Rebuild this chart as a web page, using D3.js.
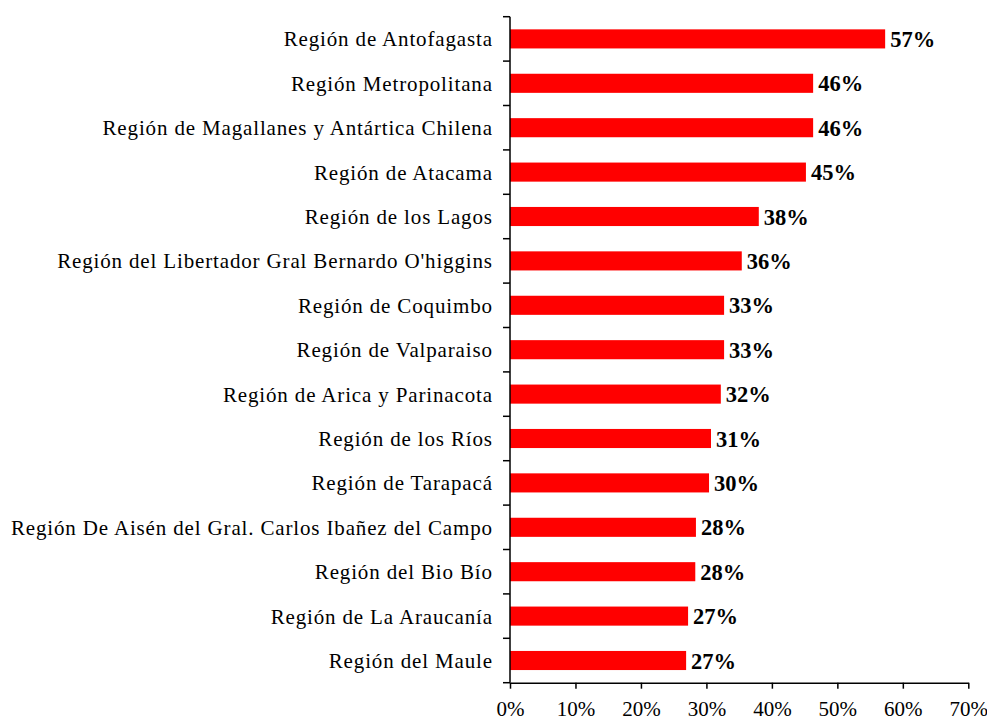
<!DOCTYPE html>
<html><head><meta charset="utf-8">
<script src="https://cdn.jsdelivr.net/npm/d3@7"></script>
<style>body{margin:0;background:#fff}svg{display:block}</style>
</head><body>
<script>
const categories = ["Región de Antofagasta","Región Metropolitana","Región de Magallanes y Antártica Chilena","Región de Atacama","Región de los Lagos","Región del Libertador Gral Bernardo O'higgins","Región de Coquimbo","Región de Valparaiso","Región de Arica y Parinacota","Región de los Ríos","Región de Tarapacá","Región De Aisén del Gral. Carlos Ibañez del Campo","Región del Bio Bío","Región de La Araucanía","Región del Maule"];
const values = [0.573,0.463,0.463,0.452,0.380,0.354,0.327,0.327,0.322,0.307,0.304,0.284,0.283,0.272,0.269];
const valueLabels = ["57%","46%","46%","45%","38%","36%","33%","33%","32%","31%","30%","28%","28%","27%","27%"];
const ticks = [0,0.1,0.2,0.3,0.4,0.5,0.6,0.7];

(function(){
const W=987,H=720;
const mL=510,mR=968.3,mT=16.7,mB=682.7;
const svg=d3.select("body").append("svg").attr("width",W).attr("height",H);
const x=d3.scaleLinear().domain([0,0.7]).range([mL,mR]);
const y=d3.scaleBand().domain(categories).range([mT,mB]).paddingInner(0.57).paddingOuter(0.285);
const font="'Liberation Serif','Times New Roman',serif";
const ls=0.85;

svg.append("g").selectAll("rect").data(values).join("rect")
  .attr("x",x(0)).attr("y",(d,i)=>y(categories[i]))
  .attr("width",d=>x(d)-x(0)).attr("height",y.bandwidth())
  .attr("fill","#ff0000");

svg.append("g").selectAll("text").data(values).join("text")
  .attr("x",d=>x(d)+5).attr("y",(d,i)=>y(categories[i])+y.bandwidth()/2)
  .attr("dy","0.36em").attr("font-family",font).attr("font-weight","bold")
  .attr("font-size",22.5).attr("fill","#000").text((d,i)=>valueLabels[i]);

const step=(mB-mT)/categories.length;
const yAxis=svg.append("g");
yAxis.append("line").attr("x1",mL).attr("x2",mL).attr("y1",mT).attr("y2",mB).attr("stroke","#000").attr("stroke-width",1.5);
yAxis.selectAll("line.t").data(d3.range(categories.length+1)).join("line").attr("class","t")
  .attr("x1",mL-7).attr("x2",mL).attr("y1",i=>mT+i*step).attr("y2",i=>mT+i*step)
  .attr("stroke","#000").attr("stroke-width",1.5);
yAxis.selectAll("text").data(categories).join("text")
  .attr("x",492+ls).attr("y",d=>y(d)+y.bandwidth()/2).attr("dy","0.36em")
  .attr("text-anchor","end").attr("font-family",font).attr("font-size",21)
  .attr("letter-spacing",ls).attr("fill","#000").text(d=>d);

const xAxis=d3.axisBottom(x).tickValues(ticks).tickFormat(d3.format(".0%")).tickSizeInner(6).tickSizeOuter(0);
const gx=svg.append("g").attr("transform",`translate(0,${mB})`).call(xAxis);
gx.select(".domain").attr("stroke","#000").attr("stroke-width",1.5);
gx.selectAll(".tick line").attr("stroke","#000").attr("stroke-width",1.5);
gx.selectAll(".tick text").attr("font-family",font).attr("font-size",21).attr("fill","#000").attr("y",33.5).attr("dy",0);
})();
</script>
</body></html>
